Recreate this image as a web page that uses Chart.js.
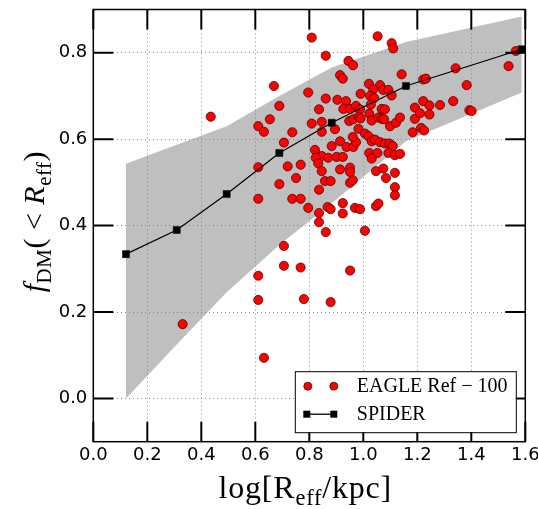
<!DOCTYPE html>
<html>
<head>
<meta charset="utf-8">
<script src="https://cdn.jsdelivr.net/npm/chart.js@4.4.0/dist/chart.umd.min.js"></script>
<style>
  html, body { margin: 0; padding: 0; background: #fff; }
  #wrap { width: 538px; height: 509px; }
</style>
</head>
<body>
<div id="wrap"><canvas id="chart" width="538" height="509"></canvas></div>
<script>
// SPIDER median relation and its scatter band
const spiderX = [0.121, 0.309, 0.494, 0.689, 0.883, 1.158, 1.587];
const spiderY = [0.334, 0.390, 0.473, 0.568, 0.638, 0.723, 0.808];
const bandUpper = [0.543, 0.587, 0.630, 0.700, 0.766, 0.825, 0.884];
const bandLower = [0.000, 0.125, 0.246, 0.355, 0.452, 0.595, 0.708];

// EAGLE Ref-100 galaxies
const eagleX = [
  0.809, 1.053, 1.105, 1.111, 0.861, 0.945, 0.962, 0.914, 0.924, 1.142,
  0.669, 0.796, 0.861, 0.904, 0.936, 1.021, 1.062, 1.037, 1.074, 1.093,
  0.990, 1.025, 1.040, 1.105, 1.222, 1.232, 1.342, 1.383, 1.538, 1.565,
  0.689, 0.836, 0.926, 0.951, 0.973, 0.988, 1.028, 1.068, 1.080, 1.191,
  1.222, 1.245, 1.284, 1.333, 1.393, 1.401, 0.654, 0.809, 0.846, 0.895,
  0.846, 0.948, 0.963, 0.982, 0.990, 1.022, 1.031, 1.056, 1.068, 1.077,
  1.099, 1.121, 1.136, 1.191, 1.210, 1.245, 1.214, 1.225, 1.183, 0.737,
  0.706, 0.883, 0.914, 0.938, 0.963, 0.973, 0.961, 0.982, 1.006, 1.019,
  1.031, 1.043, 1.062, 1.080, 1.096, 1.109, 0.821, 0.846, 0.870, 0.901,
  0.924, 1.022, 1.052, 1.031, 1.093, 1.117, 1.136, 0.824, 0.833, 0.846,
  0.914, 0.951, 0.951, 1.047, 1.074, 1.084, 1.117, 0.720, 0.768, 0.751,
  0.689, 0.858, 0.879, 0.836, 0.951, 0.961, 1.117, 1.117, 0.737, 0.768,
  0.796, 0.868, 0.879, 0.924, 0.924, 0.969, 0.988, 1.047, 1.056, 0.836,
  0.836, 0.861, 1.006, 0.706, 0.435, 0.611, 0.632, 0.611, 0.611, 0.706,
  0.768, 0.951, 0.780, 0.879, 0.611, 0.611, 0.632, 0.331
];
const eagleY = [
  0.835, 0.838, 0.822, 0.810, 0.793, 0.781, 0.771, 0.748, 0.740, 0.750,
  0.723, 0.708, 0.694, 0.691, 0.688, 0.728, 0.725, 0.715, 0.714, 0.714,
  0.705, 0.700, 0.695, 0.701, 0.738, 0.740, 0.764, 0.725, 0.769, 0.804,
  0.677, 0.669, 0.670, 0.670, 0.677, 0.669, 0.680, 0.670, 0.669, 0.673,
  0.688, 0.678, 0.679, 0.688, 0.667, 0.665, 0.646, 0.636, 0.640, 0.623,
  0.617, 0.642, 0.646, 0.652, 0.648, 0.659, 0.643, 0.650, 0.647, 0.646,
  0.630, 0.638, 0.650, 0.647, 0.660, 0.657, 0.626, 0.620, 0.616, 0.616,
  0.592, 0.584, 0.595, 0.582, 0.582, 0.593, 0.605, 0.624, 0.613, 0.607,
  0.595, 0.599, 0.593, 0.590, 0.590, 0.584, 0.575, 0.561, 0.557, 0.559,
  0.559, 0.568, 0.568, 0.555, 0.568, 0.563, 0.566, 0.557, 0.544, 0.526,
  0.530, 0.534, 0.524, 0.526, 0.532, 0.510, 0.522, 0.537, 0.541, 0.510,
  0.496, 0.503, 0.503, 0.483, 0.499, 0.505, 0.489, 0.470, 0.462, 0.462,
  0.441, 0.443, 0.438, 0.452, 0.428, 0.441, 0.438, 0.445, 0.451, 0.429,
  0.408, 0.385, 0.388, 0.353, 0.652, 0.630, 0.617, 0.535, 0.462, 0.307,
  0.303, 0.296, 0.230, 0.223, 0.284, 0.228, 0.094, 0.172
];

const xTicks = [0.0, 0.2, 0.4, 0.6, 0.8, 1.0, 1.2, 1.4, 1.6];
const yTicks = [0.0, 0.2, 0.4, 0.6, 0.8];

const SERIF = '"Liberation Serif", "DejaVu Serif", serif';

function pts(xs, ys) {
  return xs.map((x, i) => ({ x: x, y: ys[i] }));
}

// draws a run of text pieces, some of them as subscripts
function drawRich(ctx, parts, x, y, size, spacing) {
  ctx.letterSpacing = (spacing || 0) + 'px';
  let total = 0;
  parts.forEach(p => {
    const s = p.sub ? size * 0.7 : size;
    ctx.font = (p.italic ? 'italic ' : '') + s + 'px ' + SERIF;
    p.w = ctx.measureText(p.t).width;
    total += p.w;
  });
  let cx = x - total / 2;
  ctx.textAlign = 'left';
  ctx.textBaseline = 'alphabetic';
  parts.forEach(p => {
    const s = p.sub ? size * 0.7 : size;
    ctx.font = (p.italic ? 'italic ' : '') + s + 'px ' + SERIF;
    ctx.fillText(p.t, cx, p.sub ? y + size * 0.22 : y);
    cx += p.w;
  });
  ctx.letterSpacing = '0px';
}

const decorPlugin = {
  id: 'decor',
  afterDraw(chart) {
    const ctx = chart.ctx;
    const a = chart.chartArea;
    const sx = chart.scales.x, sy = chart.scales.y;
    ctx.save();

    // frame
    ctx.strokeStyle = '#000';
    ctx.lineWidth = 1.5;
    ctx.strokeRect(a.left, a.top, a.right - a.left, a.bottom - a.top);

    // inward ticks on all four sides
    ctx.lineWidth = 2;
    ctx.beginPath();
    xTicks.forEach(v => {
      const px = sx.getPixelForValue(v);
      ctx.moveTo(px, a.bottom); ctx.lineTo(px, a.bottom - 20);
      ctx.moveTo(px, a.top); ctx.lineTo(px, a.top + 20);
    });
    yTicks.forEach(v => {
      const py = sy.getPixelForValue(v);
      ctx.moveTo(a.left, py); ctx.lineTo(a.left + 20, py);
      ctx.moveTo(a.right, py); ctx.lineTo(a.right - 20, py);
    });
    ctx.stroke();

    // legend
    const lw = 221, lh = 61;
    const lx = a.right - 9.5 - lw, ly = a.bottom - 9.5 - lh;
    ctx.fillStyle = '#fff';
    ctx.fillRect(lx, ly, lw, lh);
    ctx.lineWidth = 1;
    ctx.strokeStyle = '#000';
    ctx.strokeRect(lx + 0.5, ly + 0.5, lw, lh);

    const r1 = ly + 15, r2 = ly + 43;
    [lx + 13, lx + 39].forEach(mx => {
      ctx.beginPath();
      ctx.arc(mx, r1, 4, 0, Math.PI * 2);
      ctx.fillStyle = '#ff0000';
      ctx.fill();
      ctx.lineWidth = 0.7;
      ctx.strokeStyle = '#300';
      ctx.stroke();
    });
    ctx.beginPath();
    ctx.lineWidth = 1.3;
    ctx.strokeStyle = '#000';
    ctx.moveTo(lx + 12, r2); ctx.lineTo(lx + 39, r2);
    ctx.stroke();
    ctx.fillStyle = '#000';
    ctx.fillRect(lx + 8.5, r2 - 3.5, 7, 7);
    ctx.fillRect(lx + 35.5, r2 - 3.5, 7, 7);

    ctx.font = '20px ' + SERIF;
    ctx.textAlign = 'left';
    ctx.textBaseline = 'middle';
    ctx.fillText('EAGLE Ref \u2212 100', lx + 62, r1 + 1);
    ctx.fillText('SPIDER', lx + 62, r2 + 1);

    // axis titles
    ctx.fillStyle = '#000';
    drawRich(ctx, [
      { t: 'log' }, { t: '[' }, { t: 'R' }, { t: 'eff', sub: true },
      { t: '/' }, { t: 'kpc' }, { t: ']' }
    ], (a.left + a.right) / 2 - 4, 498, 32, 0.8);

    ctx.translate(44, (a.top + a.bottom) / 2 - 4);
    ctx.rotate(-Math.PI / 2);
    drawRich(ctx, [
      { t: 'f', italic: true }, { t: 'DM', sub: true }, { t: '(' },
      { t: ' < ' }, { t: 'R', italic: true }, { t: 'eff', sub: true }, { t: ')' }
    ], 0, 0, 30, 0.5);

    ctx.restore();
  }
};

const ctx = document.getElementById('chart').getContext('2d');
const chart = new Chart(ctx, {
  type: 'scatter',
  data: {
    datasets: [
      {
        label: 'SPIDER',
        type: 'line',
        data: pts(spiderX, spiderY),
        borderColor: '#000',
        borderWidth: 1.2,
        pointStyle: 'rect',
        pointRadius: 5,
        pointBackgroundColor: '#000',
        pointBorderColor: '#000',
        pointBorderWidth: 0.5,
        fill: false,
        tension: 0,
        order: 0
      },
      {
        label: 'EAGLE Ref-100',
        data: pts(eagleX, eagleY),
        backgroundColor: '#ff0000',
        borderColor: '#330000',
        borderWidth: 0.7,
        pointRadius: 4.6,
        order: 1
      },
      {
        label: 'band upper',
        type: 'line',
        data: pts(spiderX, bandUpper),
        borderColor: 'rgba(0,0,0,0)',
        borderWidth: 1,
        pointRadius: 0,
        fill: '+1',
        backgroundColor: 'rgba(128,128,128,0.5)',
        tension: 0,
        order: 2
      },
      {
        label: 'band lower',
        type: 'line',
        data: pts(spiderX, bandLower),
        borderColor: 'rgba(0,0,0,0)',
        borderWidth: 1,
        pointRadius: 0,
        fill: false,
        tension: 0,
        order: 3
      }
    ]
  },
  options: {
    responsive: false,
    devicePixelRatio: 1,
    animation: false,
    layout: { padding: { top: 9.5, right: 12.7, left: 0, bottom: 0 } },
    plugins: {
      legend: { display: false },
      tooltip: { enabled: false }
    },
    scales: {
      x: {
        type: 'linear',
        min: 0,
        max: 1.6,
        afterBuildTicks: s => { s.ticks = xTicks.map(v => ({ value: v })); },
        afterFit: s => { s.height = 67.3; s.paddingLeft = 0; s.paddingRight = 0; },
        ticks: {
          callback: v => v.toFixed(1),
          font: { family: 'DejaVu Sans', size: 18 },
          color: '#000',
          padding: 3,
          maxRotation: 0,
          autoSkip: false
        },
        grid: { color: '#8a8a8a', lineWidth: 1, drawTicks: false },
        border: { display: false, dash: [1, 3] }
      },
      y: {
        type: 'linear',
        min: -0.1,
        max: 0.9,
        afterBuildTicks: s => { s.ticks = yTicks.map(v => ({ value: v })); },
        afterFit: s => { s.width = 93.3; s.paddingTop = 0; s.paddingBottom = 0; },
        ticks: {
          callback: v => v.toFixed(1),
          font: { family: 'DejaVu Sans', size: 18 },
          color: '#000',
          padding: 6,
          autoSkip: false
        },
        grid: { color: '#8a8a8a', lineWidth: 1, drawTicks: false },
        border: { display: false, dash: [1, 3] }
      }
    }
  },
  plugins: [decorPlugin]
});
</script>
</body>
</html>
